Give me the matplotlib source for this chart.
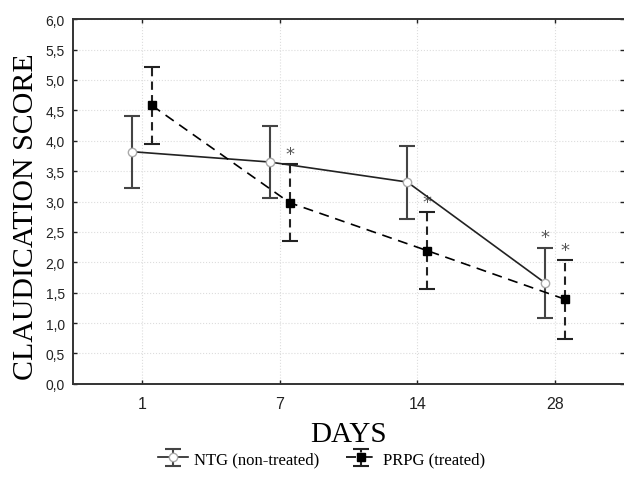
import matplotlib.pyplot as plt
import numpy as np

days = ["1", "7", "14", "28"]
ntg_mean = [3.82, 3.65, 3.32, 1.66]
ntg_err = [0.59, 0.59, 0.60, 0.58]
prpg_mean = [4.58, 2.98, 2.19, 1.39]
prpg_err = [0.64, 0.63, 0.63, 0.65]
# which points carry a significance star
ntg_star = [False, False, False, True]
prpg_star = [False, True, True, True]

x = np.arange(len(days))
shift = 0.073

fig = plt.figure(figsize=(6.24, 4.81), dpi=100)
ax = fig.add_axes([0.117, 0.2, 0.883, 0.758])

ntg = ax.errorbar(x - shift, ntg_mean, yerr=ntg_err, color='#222222', lw=1.2,
                  ecolor='#444444', elinewidth=1.5, capsize=5.5, capthick=1.5,
                  marker='o', ms=6, mfc='white', mec='#aaaaaa',
                  label='NTG (non-treated)', zorder=3)
prpg = ax.errorbar(x + shift, prpg_mean, yerr=prpg_err, color='black', lw=1.2,
                   ls=(0, (6, 4)), ecolor='#222222', elinewidth=1.5, capsize=5.5,
                   capthick=1.5, marker='s', ms=6, mfc='black', mec='black',
                   label='PRPG (treated)', zorder=3)
prpg[2][0].set_linestyle((0, (4, 2.5)))

for xi, m, e, s in zip(x - shift, ntg_mean, ntg_err, ntg_star):
    if s:
        ax.text(xi, m + e + 0.02, '*', ha='center', va='bottom', fontsize=13, color='#555555')
for xi, m, e, s in zip(x + shift, prpg_mean, prpg_err, prpg_star):
    if s:
        ax.text(xi, m + e + 0.02, '*', ha='center', va='bottom', fontsize=13, color='#555555')

ax.set_xlim(-0.5, 3.5)
ax.set_ylim(0, 6)
ax.set_xticks(x)
ax.set_xticklabels(days)
yt = np.arange(0, 6.01, 0.5)
ax.set_yticks(yt)
ax.set_yticklabels([('%.1f' % v).replace('.', ',') for v in yt])
ax.tick_params(direction='in', length=3, width=1, labelsize=10, colors='#222222',
               top=True, right=True, pad=6)
ax.tick_params(axis='x', pad=9, labelsize=11.5)
for lab in ax.get_xticklabels() + ax.get_yticklabels():
    lab.set_family('Liberation Sans')
ax.grid(True, ls=':', color='#dddddd', lw=0.8)
ax.set_axisbelow(True)
for side in ['left', 'bottom', 'top']:
    ax.spines[side].set_linewidth(1.4)
    ax.spines[side].set_color('#333333')
ax.spines['right'].set_visible(False)

ax.set_xlabel('DAYS', family='Liberation Serif', fontsize=21, labelpad=7)
ax.set_ylabel('CLAUDICATION SCORE', family='Liberation Serif', fontsize=21.5)
ax.yaxis.set_label_coords(-0.062, 0.46)

fig.legend(handles=[ntg, prpg], loc='center', bbox_to_anchor=(0.515, 0.043), ncol=2,
           frameon=False, prop={'family': 'Liberation Serif', 'size': 12},
           handlelength=1.8, columnspacing=1.6, handletextpad=0.4)

plt.savefig('out.png')
plt.close()
